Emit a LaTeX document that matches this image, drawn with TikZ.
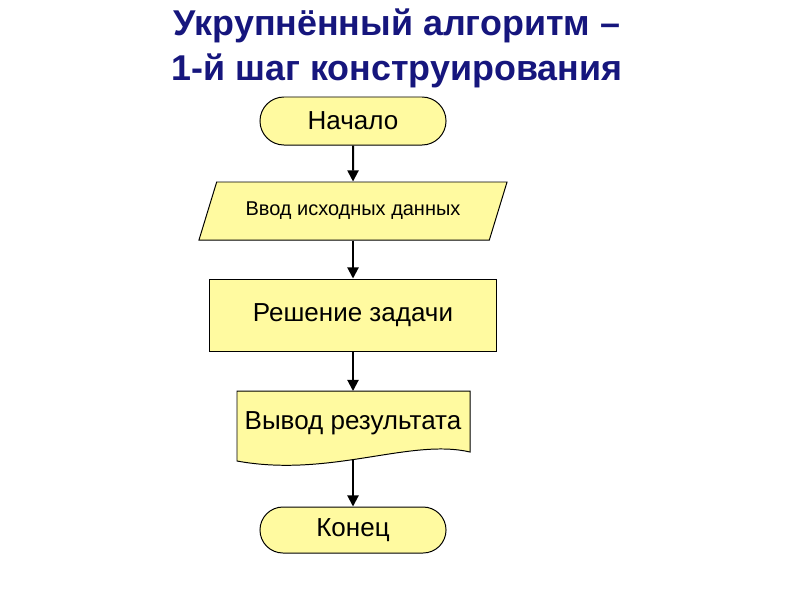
\documentclass[tikz,border=0pt]{standalone}
\usepackage{fontspec}
\setmainfont{Liberation Sans}
\usetikzlibrary{shapes.geometric,shapes.misc,arrows.meta}
\definecolor{blockfill}{RGB}{255,250,160}
\definecolor{titleblue}{RGB}{22,22,125}
\tikzset{
  block/.style={draw=black, line width=0.7pt, fill=blockfill, inner sep=0pt,
    font=\fontsize{18.5}{22}\selectfont},
  terminal/.style={block, rounded rectangle, minimum width=4.65cm, minimum height=1.2cm},
  io/.style={block, trapezium, trapezium left angle=45, trapezium right angle=135,
    trapezium stretches body, minimum width=7.7cm, minimum height=1.45cm,
    font=\fontsize{14.2}{17}\selectfont},
  process/.style={block, rectangle, minimum width=7.15cm, minimum height=1.8cm},
  flow/.style={line width=1.4pt, -{Triangle[length=8pt,width=8pt]}}
}
\begin{document}
\begin{tikzpicture}[x=0.025cm, y=-0.025cm]
\useasboundingbox (0,0) rectangle (800,600);

% heading
\node[font=\bfseries\fontsize{25.5}{32}\selectfont, text=titleblue, align=center]
  (title) at (397,48) {Укрупнённый алгоритм –\\1-й шаг конструирования};

% blocks
\node[terminal] (start) at (353,121) {Начало};
\node[io] (input) at (353,211) {Ввод исходных данных};
\node[process] (solve) at (353,315) {Решение задачи};

% document block: wavy bottom drawn by hand
\draw[block] (237,391) -- (470,391) -- (470,452)
  .. controls (410,438) and (330,478) .. (237,461) -- cycle;
\node[font=\fontsize{18.5}{22}\selectfont] (output) at (353,423) {Вывод результата};
\coordinate (outbot) at (353,460);

\node[terminal, minimum height=1.15cm] (finish) at (353,530) {Конец};

% connectors
\draw[flow] (start) -- (input);
\draw[flow] (input) -- (solve);
\draw[flow] (solve.south) -- (353,391);
\draw[flow] (outbot) -- (finish);
\end{tikzpicture}
\end{document}
